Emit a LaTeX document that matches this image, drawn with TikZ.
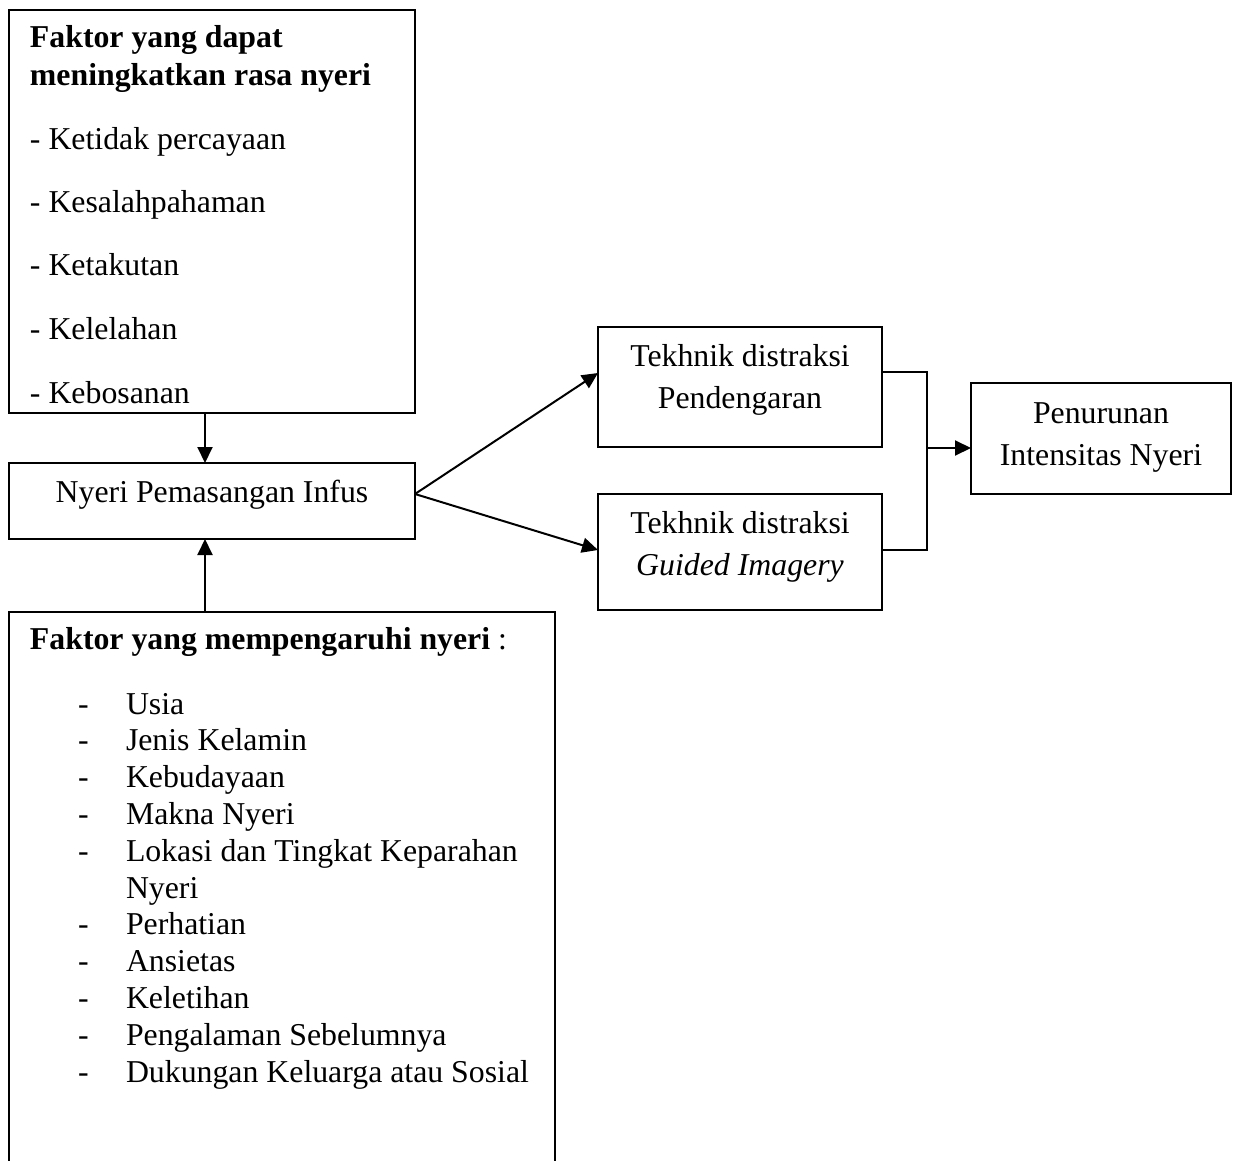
\documentclass[tikz,border=0pt]{standalone}
\usepackage{fontspec}
\setmainfont{Liberation Serif}
\usetikzlibrary{arrows.meta}
\tikzset{
  box/.style={draw, line width=1pt, inner sep=0pt, outer sep=0pt, anchor=north west},
  txt/.style={inner sep=0pt, outer sep=0pt, font=\fontsize{15.9}{19}\selectfont},
  lt/.style={txt, anchor=base west},
  ct/.style={txt, anchor=base},
  arr/.style={line width=1pt, -{Triangle[length=8pt,width=7.5pt]}},
  ln/.style={line width=1pt}
}
\begin{document}
\begin{tikzpicture}[x=0.5pt,y=-0.5pt]
\useasboundingbox (0,0) rectangle (1238,1161);
\clip (0,0) rectangle (1238,1161);
% boxes
\node[box, minimum width=203pt, minimum height=201.5pt] (f1) at (9,10) {};
\node[box, minimum width=203pt, minimum height=38pt] (ny) at (9,463) {};
\node[box, minimum width=273pt, minimum height=300pt] (f2) at (9,612) {};
\node[box, minimum width=142pt, minimum height=60pt] (t1) at (598,327) {};
\node[box, minimum width=142pt, minimum height=58pt] (t2) at (598,494) {};
\node[box, minimum width=130pt, minimum height=55.5pt] (pen) at (971,383) {};
% top box text
\node[lt] (a1) at (30,48) {\bfseries Faktor yang dapat};
\node[lt] (a2) at (30,86) {\bfseries meningkatkan rasa nyeri};
\node[lt] (a3) at (30,149) {- Ketidak percayaan};
\node[lt] (a4) at (30,212.5) {- Kesalahpahaman};
\node[lt] (a5) at (30,276) {- Ketakutan};
\node[lt] (a6) at (30,339.5) {- Kelelahan};
\node[lt] (a7) at (30,403) {- Kebosanan};
% nyeri
\node[ct] (nyt) at (212,502) {Nyeri Pemasangan Infus};
% teknik boxes
\node[ct] (t1a) at (740,366) {Tekhnik distraksi};
\node[ct] (t1b) at (740,408) {Pendengaran};
\node[ct] (t2a) at (740,533) {Tekhnik distraksi};
\node[ct] (t2b) at (740,575) {\itshape Guided Imagery};
\node[ct] (pa) at (1101,423) {Penurunan};
\node[ct] (pb) at (1101,465) {Intensitas Nyeri};
% bottom box text
\node[lt] (b0) at (30,649) {\textbf{Faktor yang mempengaruhi nyeri} :};
\foreach \i/\t in {0/Usia,1/Jenis Kelamin,2/Kebudayaan,3/Makna Nyeri,4/Lokasi dan Tingkat Keparahan,6/Perhatian,7/Ansietas,8/Keletihan,9/Pengalaman Sebelumnya,10/Dukungan Keluarga atau Sosial}{
  \node[lt] (d\i) at (78,714+36.8*\i) {-};
  \node[lt] (l\i) at (126,714+36.8*\i) {\t};
}
\node[lt] (l5) at (126,714+36.8*5) {Nyeri};
% connectors
\draw[arr] ([xshift=-3.5pt]f1.south) -- ([xshift=-3.5pt]ny.north);
\draw[arr] ([xshift=-3.5pt]ny.south |- f2.north) -- ([xshift=-3.5pt]ny.south);
\draw[arr] ([yshift=3.5pt]ny.east) -- ([yshift=7pt]t1.west);
\draw[arr] ([yshift=3.5pt]ny.east) -- ([yshift=1pt]t2.west);
\coordinate (jt) at (927,372);
\coordinate (jb) at (927,550);
\coordinate (jm) at (927,448);
\draw[ln] (t1.east |- jt) -- (jt) -- (jb) -- (t2.east |- jb);
\draw[arr] (jm) -- (pen.west |- jm);
\end{tikzpicture}
\end{document}
